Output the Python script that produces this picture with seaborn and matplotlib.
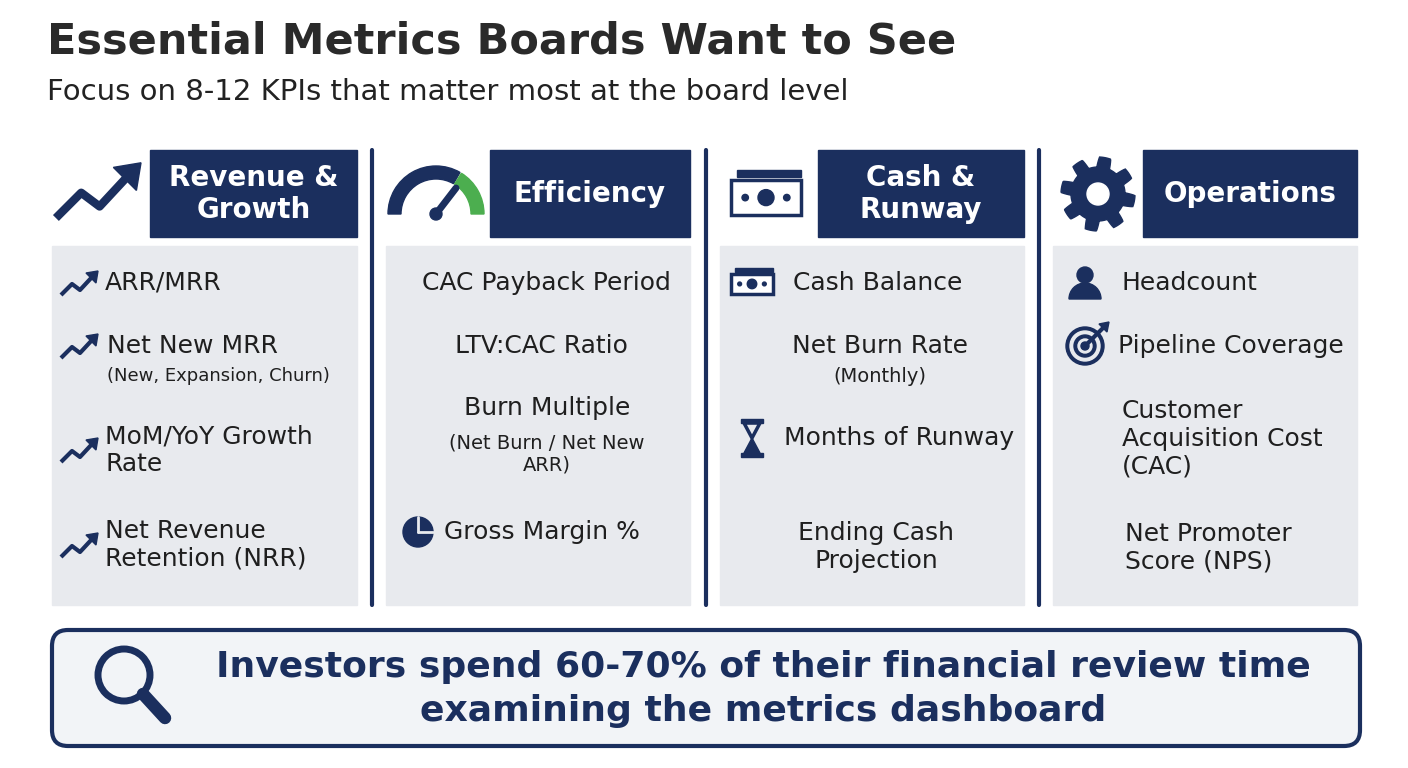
import numpy as np
import matplotlib.pyplot as plt
import seaborn as sns
from matplotlib.patches import Rectangle, FancyBboxPatch, Wedge, Circle, Polygon

sns.set_theme(style="white")
plt.rcParams['font.family'] = ['DejaVu Sans']

NAVY = '#1b2f5e'
GREEN = '#4cae4f'
PANEL = '#e8eaee'

title = "Essential Metrics Boards Want to See"
subtitle = "Focus on 8-12 KPIs that matter most at the board level"
headers = ["Revenue &\nGrowth", "Efficiency", "Cash &\nRunway", "Operations"]
callout = "Investors spend 60-70% of their financial review time\nexamining the metrics dashboard"

# column geometry: header box x0, x1, panel x0, x1
header_x = [(150, 357), (490, 690), (818, 1024), (1143, 1357)]
panel_x = [(52, 357), (386, 690), (720, 1024), (1053, 1357)]
dividers = [372, 706, 1039]

# items per column: (text, x, y, align, size, icon)
items = [
    [("ARR/MRR", 105, 283, 'left', 18, 'trend'),
     ("Net New MRR", 107, 346, 'left', 18, 'trend'),
     ("(New, Expansion, Churn)", 107, 376, 'left', 13, None),
     ("MoM/YoY Growth\nRate", 105, 450, 'left', 18, 'trend'),
     ("Net Revenue\nRetention (NRR)", 105, 545, 'left', 18, 'trend')],
    [("CAC Payback Period", 546, 283, 'center', 18, None),
     ("LTV:CAC Ratio", 541, 346, 'center', 18, None),
     ("Burn Multiple", 547, 408, 'center', 18, None),
     ("(Net Burn / Net New\nARR)", 547, 454, 'center', 14, None),
     ("Gross Margin %", 444, 532, 'left', 18, 'pie')],
    [("Cash Balance", 793, 283, 'left', 18, 'cash'),
     ("Net Burn Rate", 880, 346, 'center', 18, None),
     ("(Monthly)", 880, 377, 'center', 14, None),
     ("Months of Runway", 784, 438, 'left', 18, 'hourglass'),
     ("Ending Cash\nProjection", 876, 547, 'center', 18, None)],
    [("Headcount", 1121, 283, 'left', 18, 'person'),
     ("Pipeline Coverage", 1118, 346, 'left', 18, 'target'),
     ("Customer\nAcquisition Cost\n(CAC)", 1122, 439, 'left', 18, None),
     ("Net Promoter\nScore (NPS)", 1125, 548, 'left', 18, None)],
]

fig = plt.figure(figsize=(14.08, 7.68), dpi=100)
ax = fig.add_axes([0, 0, 1, 1])
ax.set_xlim(0, 1408)
ax.set_ylim(768, 0)
ax.axis('off')

ax.text(47, 42, title, fontsize=31, fontweight='bold', color='#2a2a2a', va='center')
ax.text(47, 92, subtitle, fontsize=21, color='#222222', va='center')


def trend(cx, cy, s=1.0, lw=3):
    xs = np.array([-17, -6, 2, 15]) * s + cx
    ys = np.array([10, -1, 5, -9]) * s + cy
    ax.plot(xs, ys, color=NAVY, lw=lw, solid_capstyle='butt')
    tip = (cx + 20 * s, cy - 14 * s)
    ax.add_patch(Polygon([tip, (cx + 8 * s, cy - 12 * s), (cx + 18 * s, cy - 2 * s)], color=NAVY))


def cash(cx, cy, s=1.0):
    ax.add_patch(Rectangle((cx - 22 * s, cy - 10 * s), 44 * s, 22 * s, fc='white', ec=NAVY, lw=2.5))
    ax.add_patch(Rectangle((cx - 18 * s, cy - 16 * s), 40 * s, 4 * s, color=NAVY))
    ax.add_patch(Circle((cx, cy + 1 * s), 5 * s, color=NAVY))
    ax.add_patch(Circle((cx - 13 * s, cy + 1 * s), 2 * s, color=NAVY))
    ax.add_patch(Circle((cx + 13 * s, cy + 1 * s), 2 * s, color=NAVY))


def icon(kind, cx, cy):
    if kind == 'trend':
        trend(cx, cy)
    elif kind == 'pie':
        ax.add_patch(Circle((cx, cy), 15, color=NAVY))
        ax.plot([cx, cx], [cy, cy - 15], color=PANEL, lw=2)
        ax.plot([cx, cx + 15], [cy, cy], color=PANEL, lw=2)
    elif kind == 'cash':
        cash(cx, cy, 0.95)
    elif kind == 'hourglass':
        ax.add_patch(Rectangle((cx - 11, cy - 19), 22, 4, color=NAVY))
        ax.add_patch(Rectangle((cx - 11, cy + 15), 22, 4, color=NAVY))
        ax.add_patch(Polygon([(cx - 8, cy - 15), (cx + 8, cy - 15), (cx, cy)], fc='none', ec=NAVY, lw=2.5))
        ax.add_patch(Polygon([(cx - 8, cy + 15), (cx + 8, cy + 15), (cx, cy)], color=NAVY))
    elif kind == 'person':
        ax.add_patch(Circle((cx, cy - 8), 8, color=NAVY))
        ax.add_patch(Wedge((cx, cy + 16), 16, 180, 360, color=NAVY))
    elif kind == 'target':
        for r, c in [(19, NAVY), (15, PANEL), (11, NAVY), (7, PANEL), (4, NAVY)]:
            ax.add_patch(Circle((cx, cy), r, color=c))
        ax.plot([cx, cx + 18], [cy, cy - 18], color=NAVY, lw=3)
        ax.add_patch(Polygon([(cx + 14, cy - 22), (cx + 22, cy - 14), (cx + 24, cy - 24)], color=NAVY))


for i, hdr in enumerate(headers):
    hx0, hx1 = header_x[i]
    ax.add_patch(Rectangle((hx0, 150), hx1 - hx0, 87, color=NAVY))
    ax.text((hx0 + hx1) / 2, 194, hdr, fontsize=20, fontweight='bold', color='white',
            ha='center', va='center', linespacing=1.15)
    px0, px1 = panel_x[i]
    ax.add_patch(Rectangle((px0, 246), px1 - px0, 359, color=PANEL))
    for text, x, y, al, sz, ic in items[i]:
        ax.text(x, y, text, fontsize=sz, color='#1f1f1f', ha=al, va='center', linespacing=1.2)
        if ic:
            icx = {0: 78, 1: 418, 2: 752, 3: 1085}[i]
            icon(ic, icx, y + (2 if ic == 'trend' else 0))

for x in dividers:
    ax.plot([x, x], [150, 605], color=NAVY, lw=3)

# header icons
trend(95, 195, s=2.3, lw=6)
ax.add_patch(Wedge((436, 214), 48, 180, 300, width=13, color=NAVY))
ax.add_patch(Wedge((436, 214), 48, 302, 360, width=13, color=GREEN))
ax.plot([436, 456], [214, 188], color=NAVY, lw=5)
ax.add_patch(Circle((436, 214), 6, color=NAVY))
cash(766, 196, 1.6)
t = np.linspace(0, 2 * np.pi, 400)
r = 32 + 5 * np.clip(np.sin(8 * t) * 3, -1, 1)
ax.add_patch(Polygon(np.c_[1098 + r * np.cos(t), 194 + r * np.sin(t)], color=NAVY))
ax.add_patch(Circle((1098, 194), 11, color='white'))

# callout
ax.add_patch(FancyBboxPatch((52, 630), 1308, 116, boxstyle="round,pad=0,rounding_size=16",
                            fc='#f2f4f7', ec=NAVY, lw=3))
ax.add_patch(Circle((124, 675), 26, fc='none', ec=NAVY, lw=5))
ax.plot([143, 165], [694, 718], color=NAVY, lw=9, solid_capstyle='round')
ax.text(763, 689, callout, fontsize=26, fontweight='bold', color=NAVY,
        ha='center', va='center', linespacing=1.4)

fig.savefig('out.png', dpi=100)
